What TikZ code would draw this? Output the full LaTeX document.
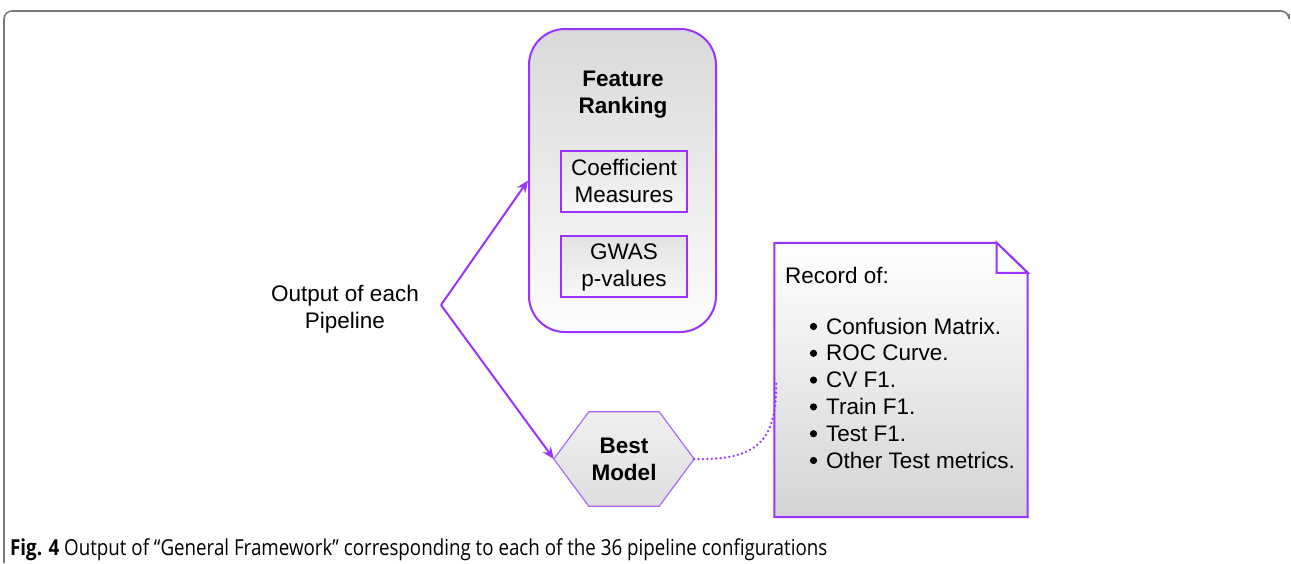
\documentclass[tikz,border=0pt]{standalone}
\usepackage{fontspec}
\setmainfont{Liberation Sans}
\newfontfamily\capfont{Open Sans}
\usetikzlibrary{arrows.meta,backgrounds,calc}
\definecolor{pur}{HTML}{9933FF}
\definecolor{lpur}{HTML}{AA66FF}
\definecolor{framegray}{HTML}{7A7A7A}
\tikzset{
  txt/.style={font=\fontsize{22.5}{27}\selectfont, align=center, inner sep=0pt},
  btxt/.style={txt, font=\fontsize{22.5}{27}\selectfont\bfseries},
  subbox/.style={draw=pur, line width=2pt, top color=black!11, bottom color=black!3,
                 minimum width=126pt, minimum height=61pt, inner sep=0pt},
  conn/.style={draw=pur, line width=2pt, -{Stealth[length=12pt,width=10pt]}},
  dotconn/.style={draw=pur, line width=2.6pt, dash pattern=on 0pt off 4.4pt, line cap=round}
}
\begin{document}
\begin{tikzpicture}[x=1pt,y=-1pt]
\useasboundingbox (0,0) rectangle (1291,563);
% frame
\draw[framegray, line width=1.6pt, rounded corners=8pt] (4,563) -- (4,11) -- (1289,11) -- (1289,14);

% feature ranking container
\node[draw=pur, line width=2pt, rounded corners=36pt, top color=black!15, bottom color=black!1,
      minimum width=187pt, minimum height=303pt, inner sep=0pt] (fr) at (622.5,180.5) {};
\node[btxt] (frt) at (623,95) {Feature\\Ranking};
\node[subbox] (coef) at (624,181) {};
\node[txt] (coeft) at (624,181) {Coefficient\\Measures};
\node[subbox] (gwas) at (624,266) {};
\node[txt] (gwast) at (624,267) {GWAS\\p-values};

% output label
\node[txt] (out) at (345,309) {Output of each\\Pipeline};
\coordinate (split) at (441,305);

% best model hexagon
\node[btxt, minimum width=140pt, minimum height=94pt] (bm) at (624,459) {Best\\Model};
\begin{scope}[on background layer]
\path[draw=lpur, line width=1.2pt, top color=black!6, bottom color=black!13]
  (bm.west) -- ([xshift=35pt]bm.north west) -- ([xshift=-35pt]bm.north east) -- (bm.east)
  -- ([xshift=-35pt]bm.south east) -- ([xshift=35pt]bm.south west) -- cycle;
\end{scope}

% document box
\node[minimum width=253pt, minimum height=274pt, inner sep=0pt] (doc) at (901,380) {};
\begin{scope}[on background layer]
\path[draw=pur, line width=2pt, top color=white, bottom color=black!17]
  (doc.north west) -- ([xshift=-31pt]doc.north east) -- ([yshift=-30pt]doc.north east)
  -- (doc.south east) -- (doc.south west) -- cycle;
\draw[pur, line width=2pt, fill=white] ([xshift=-31pt]doc.north east) -- ([xshift=-31pt,yshift=-30pt]doc.north east) -- ([yshift=-30pt]doc.north east) -- cycle;
\end{scope}
\node[txt, anchor=base west] (rec) at (785,283) {Record of:};
\node[txt, anchor=base west, align=left, font=\fontsize{22.5}{26.8}\selectfont] (items) at (826,468)
  {Confusion Matrix.\\ROC Curve.\\CV F1.\\Train F1.\\Test F1.\\Other Test metrics.};
\foreach \i in {0,...,5} \fill (813.5,{326.5+26.8*\i}) circle (3.6pt);

% connectors
\draw[conn] (split) -- (fr.west);
\draw[conn] (split) -- (bm.west);
\draw[dotconn] (bm.east) .. controls +(70,2) and +(0,55) .. ([xshift=2pt]doc.west);

% caption
\node[anchor=base west, inner sep=0pt] (cap) at (10,555)
  {\resizebox{817pt}{1.1\height}{\capfont\fontsize{20}{22}\selectfont\textbf{Fig. 4} Output of “General Framework” corresponding to each of the 36 pipeline configurations}};
\end{tikzpicture}
\end{document}
